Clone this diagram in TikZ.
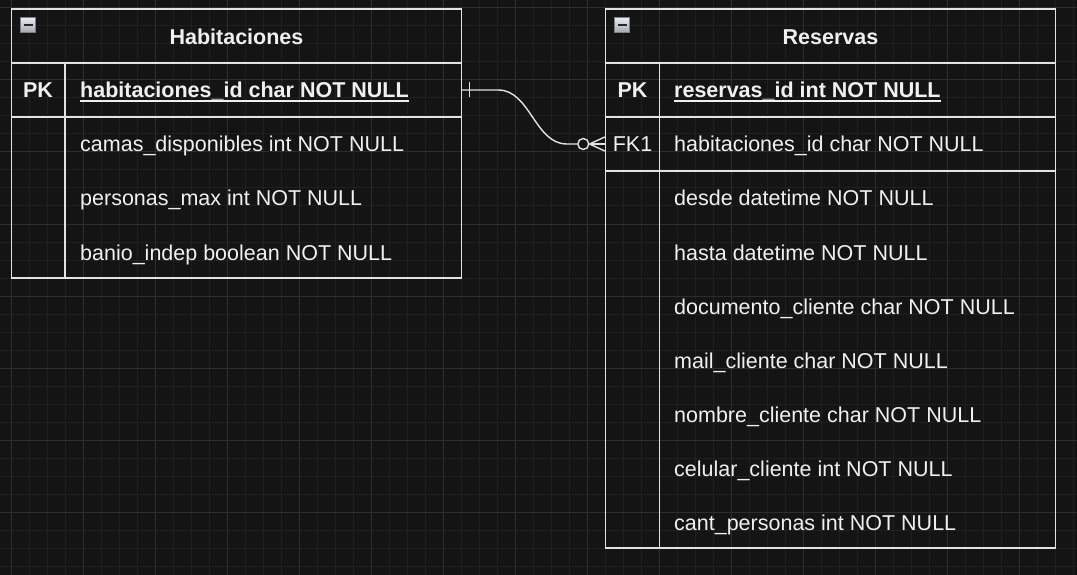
\documentclass[tikz,border=0pt]{standalone}
\usepackage{fontspec}
\setmainfont{Liberation Sans}
\definecolor{bgc}{RGB}{20,20,20}
\definecolor{minorc}{RGB}{31,31,31}
\definecolor{majorc}{RGB}{45,45,45}
\definecolor{linec}{RGB}{226,226,226}
\definecolor{txtc}{RGB}{240,240,240}
\definecolor{icontop}{RGB}{236,236,240}
\definecolor{iconbot}{RGB}{165,168,178}
\definecolor{iconedge}{RGB}{120,128,140}
\tikzset{
  tblframe/.style={draw=linec, line width=1.4pt, rectangle, inner sep=0pt, minimum width=450pt},
  rowbox/.style={draw=linec, line width=1.4pt, rectangle, inner sep=0pt, minimum width=450pt, minimum height=54pt},
  ttl/.style={text=txtc, inner sep=0pt, anchor=base, font=\fontsize{21.5}{26}\selectfont\bfseries},
  keytxt/.style={text=txtc, inner sep=0pt, anchor=base, font=\fontsize{21.5}{26}\selectfont},
  fld/.style={text=txtc, inner sep=0pt, anchor=base west, font=\fontsize{21.5}{26}\selectfont},
  conn/.style={draw=linec, line width=1.4pt},
  minorline/.style={draw=minorc, line width=1pt},
  majorline/.style={draw=majorc, line width=1pt},
}
\begin{document}
\begin{tikzpicture}[x=1pt,y=-1pt]
\useasboundingbox (0,0) rectangle (1077,575);
\fill[bgc] (0,0) rectangle (1077,575);
% grid
\foreach \x in {11,29,...,1077} \draw[minorline] (\x,0) -- (\x,575);
\foreach \y in {8,26,...,575} \draw[minorline] (0,\y) -- (1077,\y);
\foreach \x in {11,83,...,1077} \draw[majorline] (\x,0) -- (\x,575);
\foreach \y in {8,80,...,575} \draw[majorline] (0,\y) -- (1077,\y);

% ---------- Habitaciones ----------
\node[tblframe, minimum height=269pt] (hab) at (236.5,143.5) {};
\node[rowbox] (habhead) at (236.5,36) {};
\node[rowbox] (hpkrow) at (236.5,90) {};
\draw[draw=linec, line width=1.4pt] (65,63) -- (65,278);
\shade[top color=icontop, bottom color=iconbot, draw=iconedge, line width=0.8pt] (20.5,17.5) rectangle (35.5,32.5);
\fill[black!85] (23.5,24) rectangle (32.5,26.5);
\node[ttl] (habtitle) at (236.5,44.5) {Habitaciones};
\node[keytxt, font=\fontsize{21.5}{26}\selectfont\bfseries] (hpk) at (38,98) {PK};
\node[fld, font=\fontsize{21.5}{26}\selectfont\bfseries] (hpkf) at (80,98) {habitaciones\_id char NOT NULL};
\draw[draw=txtc, line width=1.5pt] ([yshift=-3pt]hpkf.base west) -- ([yshift=-3pt]hpkf.base east);
\node[fld] (h1) at (80,152) {camas\_disponibles int NOT NULL};
\node[fld] (h2) at (80,206) {personas\_max int NOT NULL};
\node[fld] (h3) at (80,260) {banio\_indep boolean NOT NULL};

% ---------- Reservas ----------
\node[tblframe, minimum height=539pt] (res) at (830.5,278.5) {};
\node[rowbox] (reshead) at (830.5,36) {};
\node[rowbox] (rpkrow) at (830.5,90) {};
\node[rowbox] (rfkrow) at (830.5,144) {};
\draw[draw=linec, line width=1.4pt] (659.5,63) -- (659.5,548);
\shade[top color=icontop, bottom color=iconbot, draw=iconedge, line width=0.8pt] (614.5,17.5) rectangle (629.5,32.5);
\fill[black!85] (617.5,24) rectangle (626.5,26.5);
\node[ttl] (restitle) at (830.5,44.5) {Reservas};
\node[keytxt, font=\fontsize{21.5}{26}\selectfont\bfseries] (rpk) at (632.5,98) {PK};
\node[fld, font=\fontsize{21.5}{26}\selectfont\bfseries] (rpkf) at (674,98) {reservas\_id int NOT NULL};
\draw[draw=txtc, line width=1.5pt] ([yshift=-3pt]rpkf.base west) -- ([yshift=-3pt]rpkf.base east);
\node[keytxt] (rfk) at (632.5,152) {FK1};
\node[fld] (rfkf) at (674,152) {habitaciones\_id char NOT NULL};
\node[fld] (r1) at (674,206) {desde datetime NOT NULL};
\node[fld] (r2) at (674,260) {hasta datetime NOT NULL};
\node[fld] (r3) at (674,314) {documento\_cliente char NOT NULL};
\node[fld] (r4) at (674,368) {mail\_cliente char NOT NULL};
\node[fld] (r5) at (674,422) {nombre\_cliente char NOT NULL};
\node[fld] (r6) at (674,476) {celular\_cliente int NOT NULL};
\node[fld] (r7) at (674,530) {cant\_personas int NOT NULL};

% ---------- connector ----------
\node[circle, draw=linec, line width=1.4pt, minimum size=11pt, inner sep=0pt] (zc) at ([xshift=-21.5pt]rfkrow.west) {};
\draw[conn] (hpkrow.east) -- ++(36,0) .. controls +(32,0) and +(-32,0) .. ([xshift=-38pt]rfkrow.west) -- (zc.west);
\draw[conn] ([xshift=7.5pt,yshift=7.5pt]hpkrow.east) -- ([xshift=7.5pt,yshift=-7.5pt]hpkrow.east);
\draw[conn] (zc.east) -- (rfkrow.west);
\draw[conn] (zc.east) -- ([yshift=7pt]rfkrow.west);
\draw[conn] (zc.east) -- ([yshift=-7pt]rfkrow.west);
\end{tikzpicture}
\end{document}
